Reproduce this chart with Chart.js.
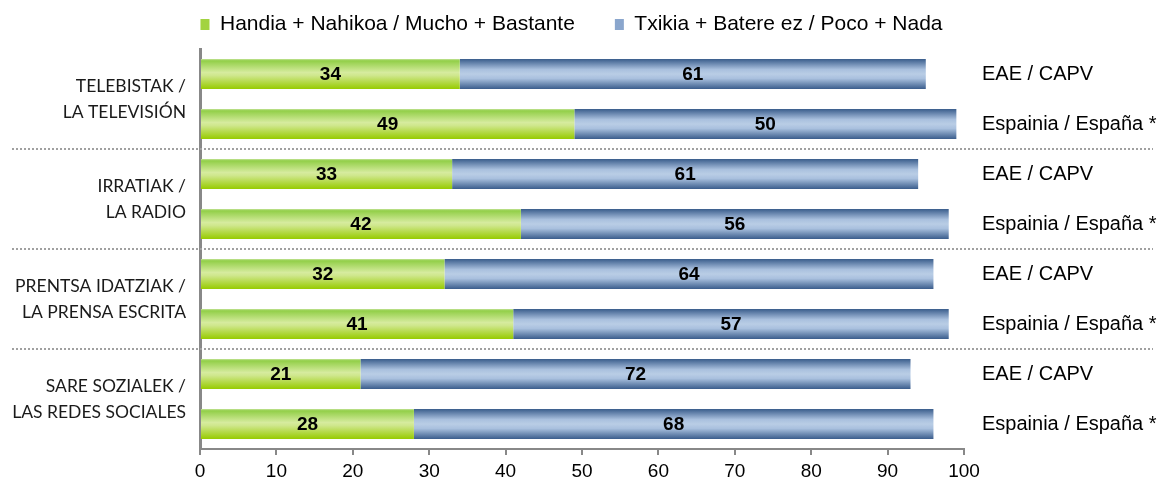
<!DOCTYPE html>
<html>
<head>
<meta charset="utf-8">
<script src="https://cdn.jsdelivr.net/npm/chart.js@4.4.0/dist/chart.umd.min.js"></script>
<style>
  html, body { margin: 0; padding: 0; background: #fff; }
  #wrap { width: 1159px; height: 478px; position: relative; }
</style>
</head>
<body>
<div id="wrap"><canvas id="myChart"></canvas></div>
<script>
// data
var groups = [
  ["TELEBISTAK /", "LA TELEVISIÓN"],
  ["IRRATIAK /", "LA RADIO"],
  ["PRENTSA IDATZIAK /", "LA PRENSA ESCRITA"],
  ["SARE SOZIALEK /", "LAS REDES SOCIALES"]
];
var rows = ["EAE / CAPV", "Espainia / España *", "EAE / CAPV", "Espainia / España *",
            "EAE / CAPV", "Espainia / España *", "EAE / CAPV", "Espainia / España *"];
var seriesNames = ["Handia + Nahikoa / Mucho + Bastante", "Txikia + Batere ez / Poco + Nada"];
var muchoBastante = [34, 49, 33, 42, 32, 41, 21, 28];
var pocoNada = [61, 50, 61, 56, 64, 57, 72, 68];
var xTicks = [0, 10, 20, 30, 40, 50, 60, 70, 80, 90, 100];

Chart.defaults.font.family = "'Liberation Sans', Arial, sans-serif";
Chart.defaults.color = "#000";

var legendColors = ["#a2d341", "#8aa6cd"];

function barGradient(stops, flat) {
  return function (c) {
    var chart = c.chart;
    if (c.dataIndex === undefined || !chart.chartArea) return flat;
    var y = chart.scales.y.getPixelForValue(c.dataIndex);
    var g = chart.ctx.createLinearGradient(0, y - 15, 0, y + 15);
    stops.forEach(function (s) { g.addColorStop(s[0], s[1]); });
    return g;
  };
}

var greenStops = [[0, "#c4e39a"], [0.06, "#92cf48"], [0.45, "#d6eb9e"], [0.55, "#cfe78d"], [1, "#97cb00"]];
var blueStops = [[0, "#3a5d8c"], [0.35, "#a9c0de"], [0.5, "#b9cde5"], [0.65, "#a9c0de"], [1, "#3a5d8c"]];

var valueLabels = {
  id: "valueLabels",
  afterDatasetsDraw: function (chart) {
    var ctx = chart.ctx;
    ctx.save();
    ctx.font = "bold 19px 'Liberation Sans', Arial, sans-serif";
    ctx.fillStyle = "#000";
    ctx.textAlign = "center";
    ctx.textBaseline = "middle";
    chart.data.datasets.forEach(function (ds, i) {
      chart.getDatasetMeta(i).data.forEach(function (bar, j) {
        ctx.fillText(ds.data[j], (bar.x + bar.base) / 2, bar.y + 1);
      });
    });
    ctx.restore();
  }
};

var separators = {
  id: "separators",
  afterDatasetsDraw: function (chart) {
    var ctx = chart.ctx, y = chart.scales.y;
    ctx.save();
    ctx.strokeStyle = "#a0a0a0";
    ctx.lineWidth = 2;
    ctx.setLineDash([2, 2]);
    [1.5, 3.5, 5.5].forEach(function (v) {
      var py = Math.round(y.getPixelForValue(v));
      ctx.beginPath();
      ctx.moveTo(12, py);
      ctx.lineTo(1153, py);
      ctx.stroke();
    });
    ctx.restore();
  }
};

// legend box: fixed height, items nudged up and a bit to the left
var legendPlace = {
  id: "legendPlace",
  beforeInit: function (chart) {
    var fit = chart.legend.fit;
    chart.legend.fit = function () {
      fit.bind(chart.legend)();
      this.height = 49;
    };
  },
  afterLayout: function (chart) {
    var lg = chart.legend;
    lg.top -= 26;
    lg.left -= 8; lg.right -= 8;
  }
};

function fixWidth(w) {
  return function (s) { s.width = w; s.paddingTop = 0; s.paddingBottom = 0; };
}

var ctx = document.getElementById("myChart");

var myChart = new Chart(ctx, {
  type: "bar",
  data: {
    labels: rows,
    datasets: [{
      label: seriesNames[0],
      data: muchoBastante,
      backgroundColor: barGradient(greenStops, legendColors[0]),
      categoryPercentage: 0.6,
      barPercentage: 1
    }, {
      label: seriesNames[1],
      data: pocoNada,
      backgroundColor: barGradient(blueStops, legendColors[1]),
      categoryPercentage: 0.6,
      barPercentage: 1
    }]
  },
  options: {
    indexAxis: "y",
    responsive: true,
    maintainAspectRatio: false,
    animation: false,
    layout: { padding: 0 },
    plugins: {
      tooltip: { enabled: false },
      legend: {
        position: "top",
        labels: {
          boxWidth: 9,
          boxHeight: 11,
          padding: 40,
          font: { size: 21 },
          color: "#000",
          generateLabels: function (chart) {
            var items = Chart.defaults.plugins.legend.labels.generateLabels(chart);
            items.forEach(function (it, i) {
              it.fillStyle = legendColors[i];
              it.strokeStyle = legendColors[i];
              it.lineWidth = 0;
            });
            return items;
          }
        }
      }
    },
    scales: {
      x: {
        stacked: true,
        min: 0,
        max: 100,
        afterBuildTicks: function (s) { s.ticks = xTicks.map(function (v) { return { value: v }; }); },
        afterFit: function (s) { s.height = 29; s.paddingLeft = 0; s.paddingRight = 0; },
        grid: { drawOnChartArea: false, drawTicks: true, tickLength: 6, color: "#888", lineWidth: 2 },
        border: { color: "#888", width: 2 },
        ticks: { font: { size: 19 }, color: "#000", padding: 5 }
      },
      y: {
        stacked: true,
        position: "right",
        afterFit: fixWidth(195),
        grid: { display: false, drawTicks: false },
        border: { display: false },
        ticks: { font: { size: 20 }, color: "#000", padding: 18 }
      },
      y2: {
        type: "category",
        position: "left",
        labels: groups,
        offset: true,
        afterFit: fixWidth(200),
        grid: { display: false, drawTicks: false },
        border: { color: "#888", width: 3 },
        ticks: { font: { family: "Lato, 'Open Sans', sans-serif", size: 17.5, lineHeight: 1.5 }, color: "#1a1a1a", padding: 14 }
      }
    }
  },
  plugins: [legendPlace, separators, valueLabels]
});
</script>
</body>
</html>
